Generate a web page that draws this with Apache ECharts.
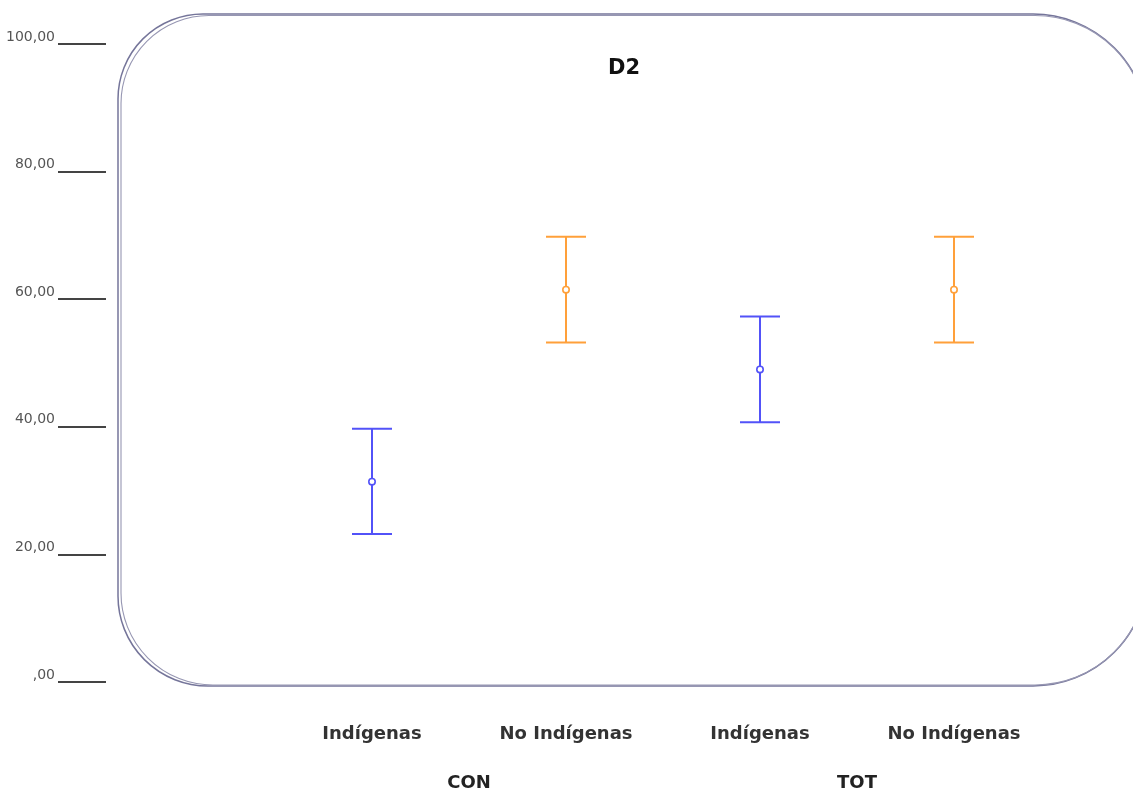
<!DOCTYPE html>
<html>
<head>
<meta charset="utf-8">
<script src="https://cdn.jsdelivr.net/npm/echarts@6/dist/echarts.min.js"></script>
<style>
  html, body { margin: 0; padding: 0; background: #fff; }
  #chart { width: 1133px; height: 792px; }
</style>
</head>
<body>
<div id="chart"></div>
<script>
// Categories along the bottom axis and the two groups below them
const categories = ['Indígenas', 'No Indígenas', 'Indígenas', 'No Indígenas'];
const groups = ['CON', 'TOT'];

// Mean and interval bounds (D2) for each category
const lowValues  = [23.2, 53.2, 40.7, 53.2];
const meanValues = [31.4, 61.5, 49.0, 61.5];
const highValues = [39.7, 69.8, 57.3, 69.8];

// Which category belongs to each population
const indigenasIdx = [0, 2];
const noIndigenasIdx = [1, 3];

// Y axis range and step
const yMin = 0, yMax = 100, yStep = 20;

const BLUE = '#5252f8';
const ORANGE = '#ffa03a';
const FONT = 'DejaVu Sans';

function rows(indices) {
  return indices.map(i => [i, lowValues[i], meanValues[i], highValues[i]]);
}

function renderErrorBar(params, api) {
  const x = api.value(0);
  const lo = api.coord([x, api.value(1)]);
  const mid = api.coord([x, api.value(2)]);
  const hi = api.coord([x, api.value(3)]);
  const half = 20;
  const color = api.visual('color');
  const st = { stroke: color, lineWidth: 2 };
  return {
    type: 'group',
    children: [
      { type: 'line', shape: { x1: hi[0], y1: hi[1], x2: lo[0], y2: lo[1] }, style: st },
      { type: 'line', shape: { x1: hi[0] - half, y1: hi[1], x2: hi[0] + half, y2: hi[1] }, style: st },
      { type: 'line', shape: { x1: lo[0] - half, y1: lo[1], x2: lo[0] + half, y2: lo[1] }, style: st },
      { type: 'circle', shape: { cx: mid[0], cy: mid[1], r: 3.2 }, style: { fill: '#fff', stroke: color, lineWidth: 1.6 } }
    ]
  };
}

const chart = echarts.init(document.getElementById('chart'), null, { renderer: 'canvas' });

chart.setOption({
  backgroundColor: '#ffffff',
  animation: false,
  title: {
    text: 'D2',
    left: 603,
    top: 53,
    textStyle: { fontFamily: FONT, fontSize: 21, fontWeight: 'bold', color: '#111' }
  },
  graphic: [
    // rounded frame around the plot, drawn as a doubled outline
    {
      type: 'rect', silent: true, z: 0,
      shape: { x: 118, y: 14, width: 1030, height: 672, r: [85, 115, 115, 90] },
      style: { fill: 'none', stroke: '#75759a', lineWidth: 1.5 }
    },
    {
      type: 'rect', silent: true, z: 0,
      shape: { x: 121, y: 15.5, width: 1026, height: 669.5, r: [88, 112, 112, 92] },
      style: { fill: 'none', stroke: '#9696b2', lineWidth: 1.1 }
    }
  ],
  grid: { left: 275, right: 82, top: 44, bottom: 109, containLabel: false },
  xAxis: [
    {
      type: 'category',
      data: categories,
      boundaryGap: true,
      axisLine: { show: false },
      axisTick: { show: false },
      splitLine: { show: false },
      axisLabel: {
        interval: 0, margin: 43,
        fontFamily: FONT, fontSize: 18, fontWeight: 'bold', color: '#333'
      }
    },
    {
      type: 'category',
      data: groups,
      position: 'bottom',
      boundaryGap: true,
      axisLine: { show: false },
      axisTick: { show: false },
      splitLine: { show: false },
      axisLabel: {
        interval: 0, margin: 92,
        fontFamily: FONT, fontSize: 18, fontWeight: 'bold', color: '#222'
      }
    }
  ],
  yAxis: {
    type: 'value',
    min: yMin, max: yMax, interval: yStep,
    offset: 169,
    axisLine: { show: false },
    splitLine: { show: false },
    axisTick: { show: true, length: 48, lineStyle: { color: '#444', width: 2 } },
    axisLabel: {
      margin: 51,
      fontFamily: FONT, fontSize: 14, color: '#555',
      verticalAlign: 'bottom',
      formatter: v => v === 0 ? ',00' : v.toFixed(2).replace('.', ',')
    }
  },
  series: [
    {
      name: 'Indígenas',
      type: 'custom',
      xAxisIndex: 0,
      color: BLUE,
      renderItem: renderErrorBar,
      encode: { x: 0, y: [1, 2, 3] },
      data: rows(indigenasIdx)
    },
    {
      name: 'No Indígenas',
      type: 'custom',
      xAxisIndex: 0,
      color: ORANGE,
      renderItem: renderErrorBar,
      encode: { x: 0, y: [1, 2, 3] },
      data: rows(noIndigenasIdx)
    }
  ]
});
</script>
</body>
</html>
